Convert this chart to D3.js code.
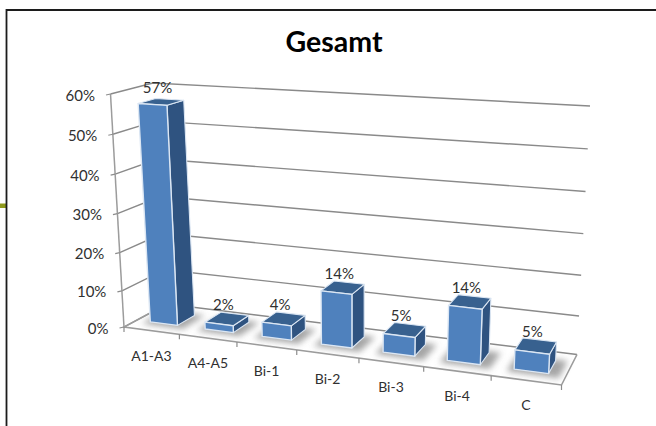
<!DOCTYPE html>
<html>
<head>
<meta charset="utf-8">
<script src="https://cdn.jsdelivr.net/npm/d3@7"></script>
<style>
html,body{margin:0;padding:0;background:#fff;}
svg{display:block;}
text{font-family:Lato,"Liberation Sans",sans-serif;}
</style>
</head>
<body>
<svg id="chart" width="656" height="426"></svg>
<script>
// Chart content
const chartTitle = "Gesamt";
const categories = ["A1-A3","A4-A5","Bi-1","Bi-2","Bi-3","Bi-4","C"];
const shares = [57,2,4,14,5,14,5];
const shareTicks = [0,10,20,30,40,50,60];

// Corners of the 3D plot box in page pixels: floor and ceiling
const floorBox = {fl:[124,327], fr:[561.5,385], br:[577,354.5], bl:[167,304]};
const roofBox  = {fl:[110.5,94], fr:[575.5,123], br:[590,106], bl:[153,83]};

const lerp = (a,b,t)=>a+(b-a)*t;
const mix = (p,q,t)=>[lerp(p[0],q[0],t),lerp(p[1],q[1],t)];
const foreshorten = 0.87;
const widen = u=>foreshorten*u/(1+(foreshorten-1)*u);

// Scales: category across the box, share up the box (slightly stretched upward)
const x = d3.scaleBand().domain(categories).range([0,1]).paddingInner(0.5).paddingOuter(0.25);
const step = d3.scaleBand().domain(categories).range([0,1]);
const y = d3.scalePow().exponent(1.04).domain([0,60]).range([0,1]);

function project(u,v,w){
  const m = widen(u);
  const onPlane = box => mix(mix(box.fl,box.fr,m),mix(box.bl,box.br,m),v);
  return mix(onPlane(floorBox),onPlane(roofBox),y(w));
}
const pathOf = pts => "M"+pts.map(p=>p[0].toFixed(2)+","+p[1].toFixed(2)).join("L")+"Z";
const openPath = pts => "M"+pts.map(p=>p[0].toFixed(2)+","+p[1].toFixed(2)).join("L");

const svg = d3.select("#chart");
const blur = svg.append("defs").append("filter").attr("id","soft")
  .attr("x","-30%").attr("y","-60%").attr("width","160%").attr("height","220%");
blur.append("feGaussianBlur").attr("stdDeviation",3.2);

// Slide frame and accent stub
svg.append("rect").attr("x",0).attr("y",203.5).attr("width",6).attr("height",4.5).attr("fill","#8f9a1c");
svg.append("path").attr("d","M656,10H6.5V426").attr("fill","#fff").attr("stroke","#1c1c1c").attr("stroke-width",1.8);

// Title
svg.append("text").attr("x",334).attr("y",52).attr("text-anchor","middle")
  .attr("font-size",28.5).attr("font-weight",700).attr("fill","#000").text(chartTitle);

const gridColor = "#8a8a8a";
// Gridlines along the left and back walls
svg.append("g").selectAll("path").data(shareTicks).join("path")
  .attr("d",d=>openPath([project(0,0,d),project(0,1,d),project(1,1,d)]))
  .attr("fill","none").attr("stroke",gridColor).attr("stroke-width",1.4);

// Left wall front edge with its ticks
svg.append("path").attr("d",openPath([project(0,0,60),project(0,0,0)]))
  .attr("fill","none").attr("stroke","#9c9c9c").attr("stroke-width",1.5);
svg.append("g").selectAll("path").data(shareTicks).join("path")
  .attr("d",d=>{const p=project(0,0,d);return openPath([p,[p[0]-4.5,p[1]+1]]);})
  .attr("stroke","#8c8c8c").attr("stroke-width",1.2);

// Floor edges and category ticks
svg.append("path").attr("d",openPath([project(0,1,0),project(0,0,0),project(1,0,0),project(1,1,0)]))
  .attr("fill","none").attr("stroke","#9c9c9c").attr("stroke-width",1.6);
const boundaries = categories.map(c=>step(c)).concat([1]);
svg.append("g").selectAll("path").data(boundaries).join("path")
  .attr("d",d=>{const p=project(d,0,0);return openPath([p,[p[0],p[1]+5]]);})
  .attr("stroke","#8c8c8c").attr("stroke-width",1.2);

// Share axis labels
svg.append("g").selectAll("text").data(shareTicks).join("text")
  .attr("x",d=>project(0,0,d)[0]-15.5).attr("y",d=>project(0,0,d)[1]+6.5)
  .attr("text-anchor","end").attr("font-size",15).attr("fill","#303030").text(d=>d+"%");

// Category labels beneath the floor edge
svg.append("g").selectAll("text").data(categories).join("text")
  .attr("x",c=>project(step(c)+step.bandwidth()/2,0,0)[0])
  .attr("y",c=>project(step(c)+step.bandwidth()/2,0,0)[1]+30)
  .attr("text-anchor","middle").attr("font-size",14).attr("fill","#303030").text(c=>c);

// Bars: depth range inside the box
const vFront = 0.3, vBack = 0.72;
const rows = categories.map((c,i)=>({cat:c,val:shares[i]}));
const corners = d=>{
  const u0=x(d.cat),u1=u0+x.bandwidth();
  return {u0,u1};
};
const edge = "#dbe6f3";

const shadow = svg.append("g").attr("filter","url(#soft)");
shadow.selectAll("path").data(rows).join("path")
  .attr("d",d=>{const {u0,u1}=corners(d);const e=0.012;
    return pathOf([project(u0-e,vFront-0.1,0),project(u1+e*2,vFront-0.1,0),project(u1+e*2,vBack+0.04,0),project(u0-e,vBack+0.04,0)]);})
  .attr("fill","#6a6a6a").attr("opacity",0.6);

const bars = svg.append("g").selectAll("g").data(rows).join("g");
bars.append("path").attr("d",d=>{const {u1}=corners(d);
    return pathOf([project(u1,vFront,d.val),project(u1,vBack,d.val),project(u1,vBack,0),project(u1,vFront,0)]);})
  .attr("fill","#2f5380").attr("stroke",edge).attr("stroke-width",1.1).attr("stroke-linejoin","round");
bars.append("path").attr("d",d=>{const {u0,u1}=corners(d);
    return pathOf([project(u0,vFront,d.val),project(u0,vBack,d.val),project(u1,vBack,d.val),project(u1,vFront,d.val)]);})
  .attr("fill","#38618f").attr("stroke",edge).attr("stroke-width",1.1).attr("stroke-linejoin","round");
bars.append("path").attr("d",d=>{const {u0,u1}=corners(d);
    return pathOf([project(u0,vFront,d.val),project(u1,vFront,d.val),project(u1,vFront,0),project(u0,vFront,0)]);})
  .attr("fill","#4f81bd").attr("stroke",edge).attr("stroke-width",1.4).attr("stroke-linejoin","round");

// Value labels above each bar
const topCentre = d=>{const {u0,u1}=corners(d);return project((u0+u1)/2,(vFront+vBack)/2,d.val);};
bars.append("text").attr("x",d=>topCentre(d)[0]-3.5).attr("y",d=>topCentre(d)[1]-9)
  .attr("text-anchor","middle").attr("font-size",15).attr("fill","#303030").text(d=>d.val+"%");
</script>
</body>
</html>
